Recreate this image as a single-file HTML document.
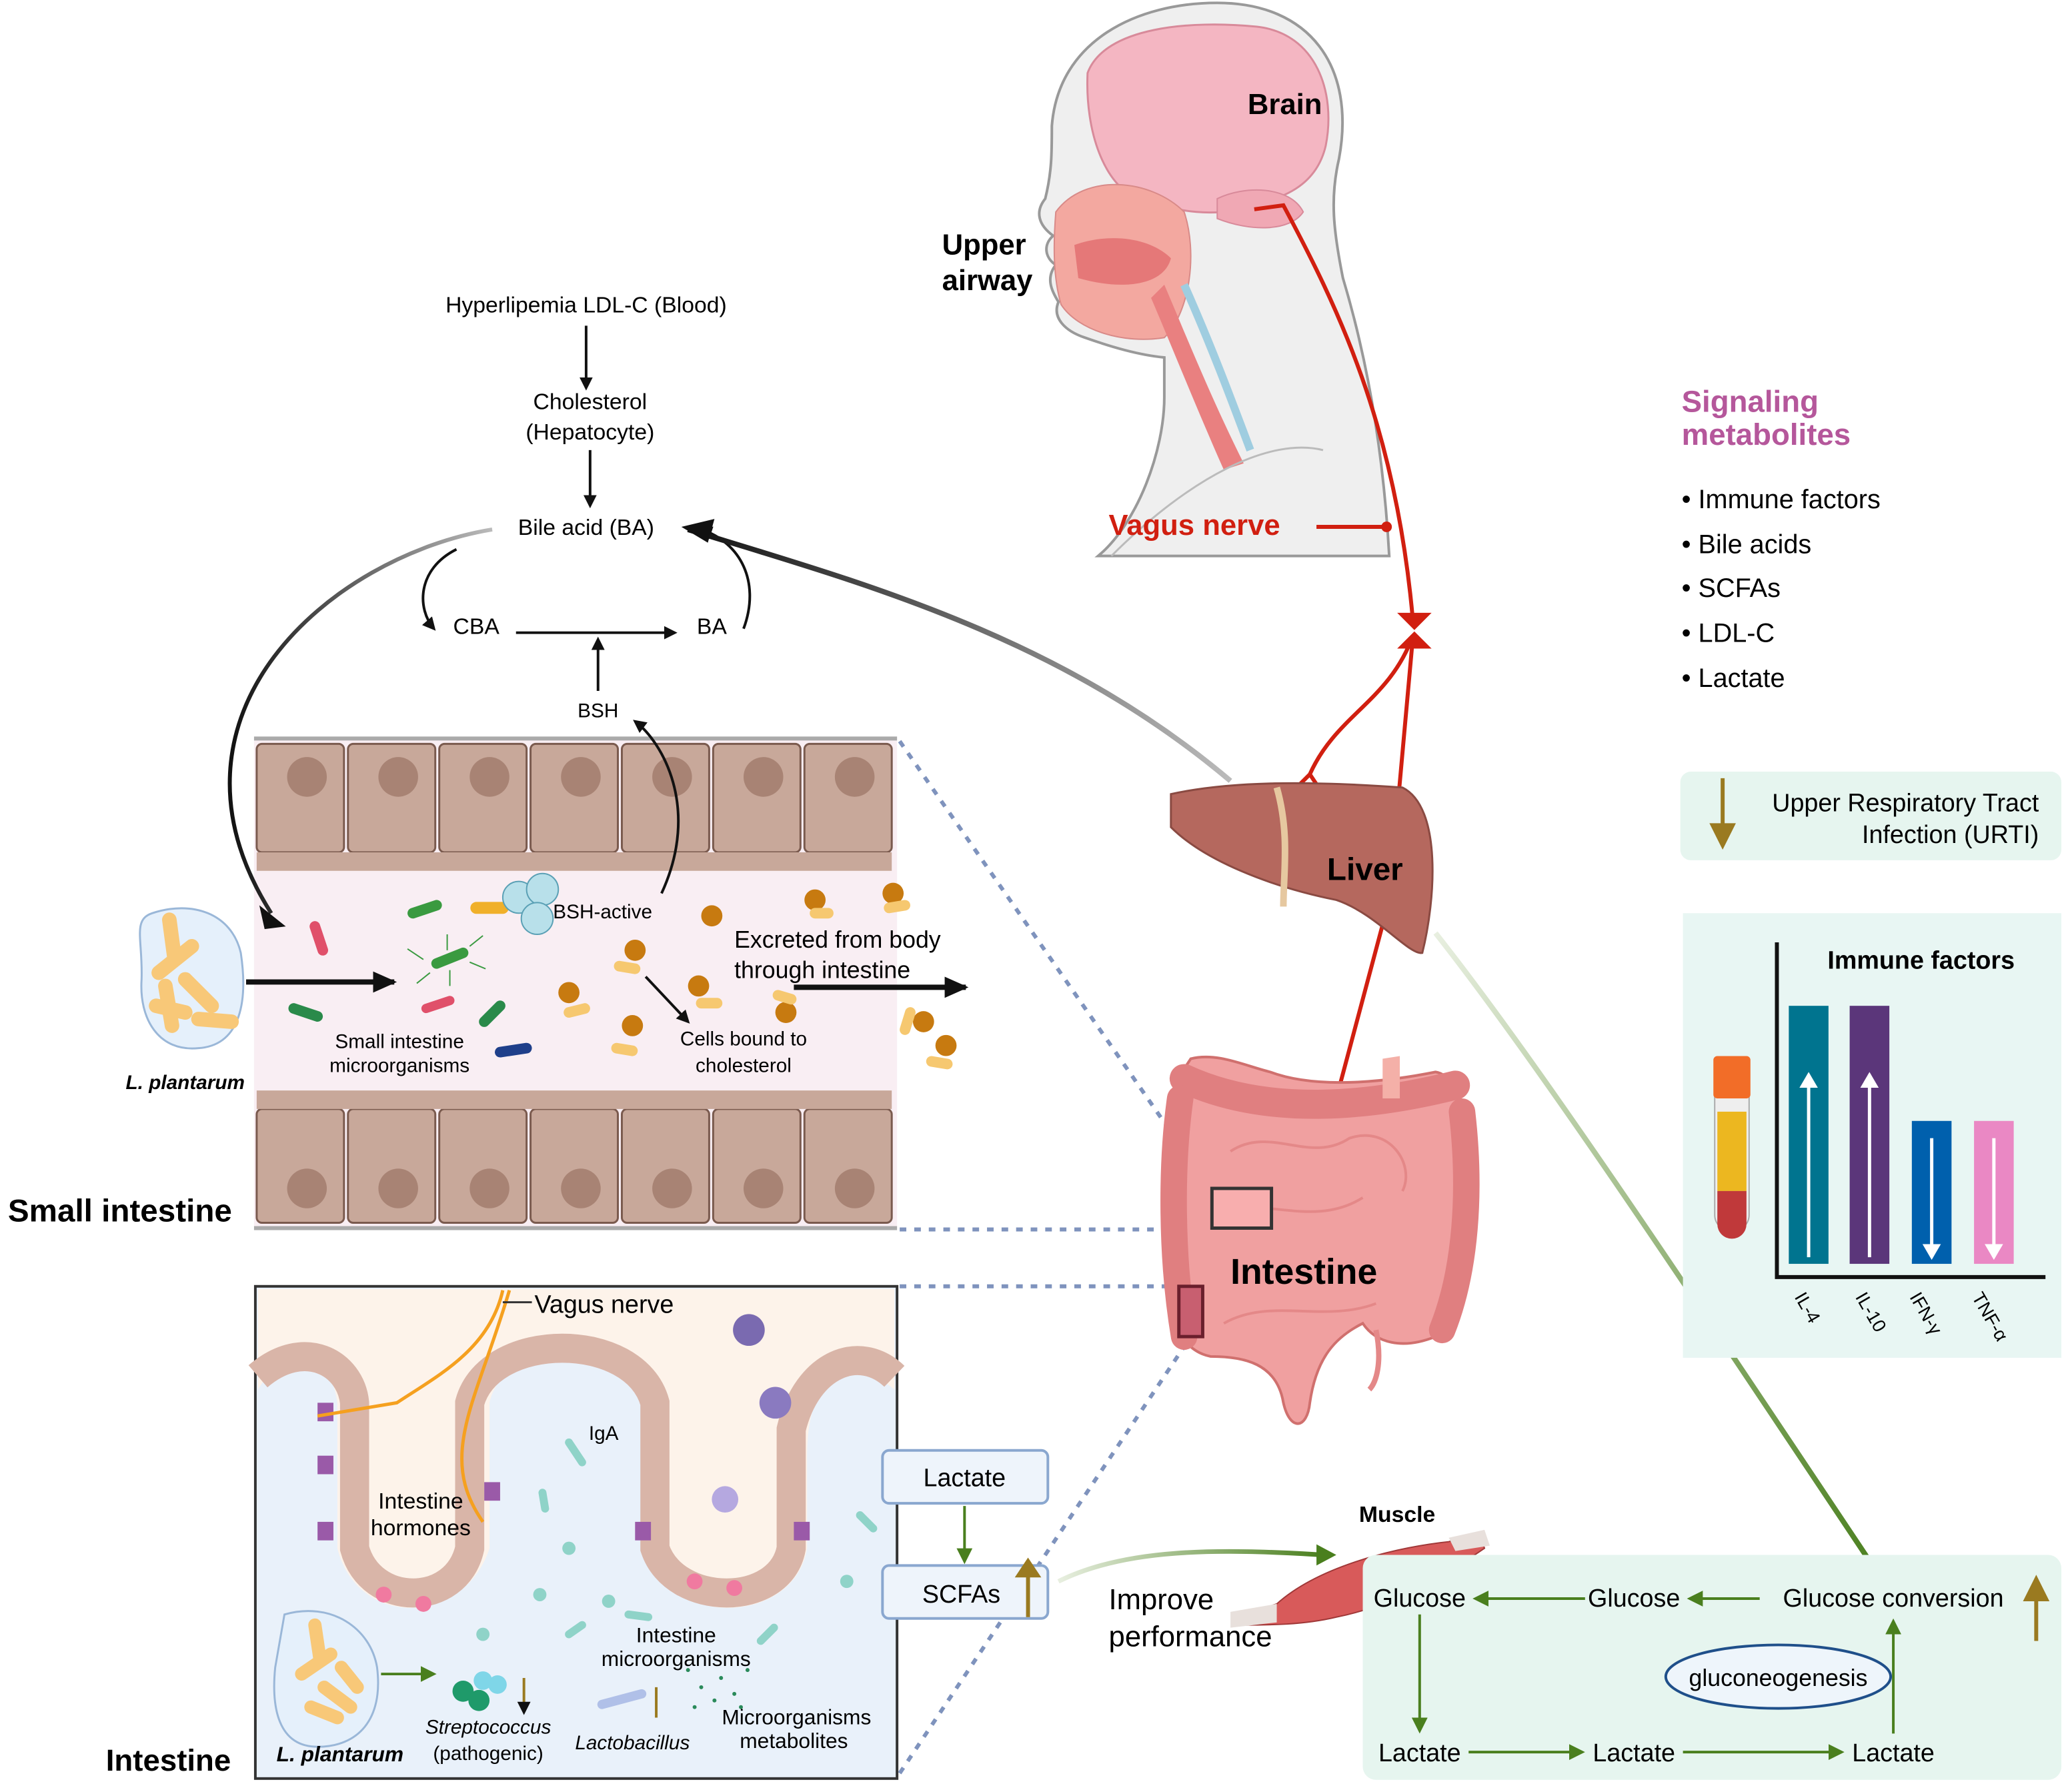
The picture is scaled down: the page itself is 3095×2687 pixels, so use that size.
<!DOCTYPE html>
<html><head><meta charset="utf-8"><style>
html,body{margin:0;padding:0;background:#fff}
svg{display:block}
text{font-family:"Liberation Sans",Arial,sans-serif}
</style></head><body>
<svg width="3095" height="2687" viewBox="0 0 1560 1354" xmlns="http://www.w3.org/2000/svg">
<defs>
<marker id="ak" markerWidth="10" markerHeight="10" refX="8" refY="5" orient="auto" markerUnits="userSpaceOnUse"><path d="M0,0 L10,5 L0,10 Z" fill="#111"/></marker>
<marker id="akb" markerWidth="18" markerHeight="16" refX="16" refY="8" orient="auto" markerUnits="userSpaceOnUse"><path d="M0,0 L18,8 L0,16 Z" fill="#111"/></marker>
<marker id="ag" markerWidth="12" markerHeight="12" refX="10" refY="6" orient="auto" markerUnits="userSpaceOnUse"><path d="M0,0 L12,6 L0,12 Z" fill="#4a7f1e"/></marker>
<marker id="aw" markerWidth="12" markerHeight="14" refX="10" refY="7" orient="auto" markerUnits="userSpaceOnUse"><path d="M0,0 L12,7 L0,14 Z" fill="#fff"/></marker>
<linearGradient id="gl" x1="0" y1="0" x2="1" y2="1"><stop offset="0" stop-color="#e8efe0"/><stop offset="1" stop-color="#4a7f1e"/></linearGradient>
<linearGradient id="gm" x1="0" y1="0" x2="1" y2="0"><stop offset="0" stop-color="#e8efe0"/><stop offset="1" stop-color="#4a7f1e"/></linearGradient>
<linearGradient id="gk" x1="0" y1="0" x2="1" y2="0"><stop offset="0" stop-color="#111"/><stop offset="1" stop-color="#bbb"/></linearGradient>
</defs>

<!-- Head -->
<path d="M795,95 C800,30 860,2 920,2 C990,2 1025,50 1012,120 C1005,150 1008,175 1015,210 C1030,260 1045,330 1050,420 L830,420 C860,395 880,340 880,300 L880,270 C860,268 840,262 820,255 C805,250 795,240 800,228 C795,220 790,210 798,200 C790,195 788,185 796,178 C785,170 782,160 790,150 C795,130 795,115 795,95 Z" fill="#efefef" stroke="#999" stroke-width="2"/>
<path d="M822,55 C835,20 900,15 950,20 C995,25 1010,70 1002,110 C995,140 970,150 945,155 C920,165 890,160 860,150 C835,140 820,100 822,55 Z" fill="#f4b6c2" stroke="#d88a9a" stroke-width="1.5"/>
<path d="M920,150 C940,140 975,140 985,160 C975,175 945,175 920,165 Z" fill="#f0a8b4" stroke="#d88a9a"/>
<path d="M798,160 C820,130 870,135 895,160 C905,190 900,235 880,255 C850,260 815,250 802,230 C796,210 796,185 798,160 Z" fill="#f3a8a0" stroke="#d88a88" stroke-width="1"/>
<path d="M812,185 C840,175 870,180 885,195 C880,215 850,220 815,210 Z" fill="#e57878"/>
<path d="M880,215 C895,250 915,300 940,350 L925,355 C905,310 885,260 870,225 Z" fill="#e98080"/>
<path d="M895,215 C915,260 930,300 945,340" stroke="#9fcde0" stroke-width="6" fill="none"/>
<path d="M840,420 C900,360 960,330 1000,340" stroke="#bbb" stroke-width="1.5" fill="none"/>
<text x="943" y="86" font-size="22" font-weight="bold">Brain</text>
<text x="712" y="192" font-size="22" font-weight="bold">Upper</text>
<text x="712" y="219" font-size="22" font-weight="bold">airway</text>

<!-- vagus nerve red -->
<g stroke="#d11f10" stroke-width="3" fill="none">
<path d="M948,158 L970,155 C1010,230 1055,320 1068,470"/>
<path d="M1068,480 L1050,680 L1010,830"/>
<path d="M1068,480 C1050,530 1010,540 990,585 L975,600 M990,585 L1000,600"/>
<path d="M1010,830 L995,840 M1010,830 L1018,840"/>
<path d="M995,398 L1048,398"/>
</g>
<circle cx="1048" cy="398" r="4" fill="#d11f10"/>
<path d="M1056,463 L1082,463 L1069,476 Z M1056,490 L1082,490 L1069,477 Z" fill="#d11f10"/>
<text x="838" y="404" font-size="22" font-weight="bold" fill="#d11f10">Vagus nerve</text>

<!-- flow chart -->
<text x="443" y="236" font-size="17" text-anchor="middle">Hyperlipemia LDL-C (Blood)</text>
<line x1="443" y1="246" x2="443" y2="293" stroke="#111" stroke-width="2" marker-end="url(#ak)"/>
<text x="446" y="309" font-size="17" text-anchor="middle">Cholesterol</text>
<text x="446" y="332" font-size="17" text-anchor="middle">(Hepatocyte)</text>
<line x1="446" y1="340" x2="446" y2="382" stroke="#111" stroke-width="2" marker-end="url(#ak)"/>
<text x="443" y="404" font-size="17" text-anchor="middle">Bile acid (BA)</text>
<text x="360" y="479" font-size="17" text-anchor="middle">CBA</text>
<text x="538" y="479" font-size="17" text-anchor="middle">BA</text>
<line x1="390" y1="478" x2="510" y2="478" stroke="#111" stroke-width="2" marker-end="url(#ak)"/>
<path d="M345,415 C315,430 315,460 328,475" stroke="#111" stroke-width="2" fill="none" marker-end="url(#ak)"/>
<path d="M562,475 C575,440 560,410 530,400" stroke="#111" stroke-width="2" fill="none" marker-end="url(#ak)"/>
<text x="452" y="542" font-size="15" text-anchor="middle">BSH</text>
<line x1="452" y1="522" x2="452" y2="483" stroke="#111" stroke-width="2" marker-end="url(#ak)"/>
<path d="M930,590 C800,480 650,440 520,400" stroke="url(#gk)" stroke-width="4" fill="none"/>
<path d="M515,398 L540,392 L535,410 Z" fill="#111"/>

<!-- small intestine -->
<rect x="192" y="557" width="486" height="372" fill="#f9eef3"/>
<line x1="192" y1="558" x2="678" y2="558" stroke="#aaa" stroke-width="3"/>
<line x1="192" y1="928" x2="678" y2="928" stroke="#aaa" stroke-width="3"/>
<g fill="#c8a89a" stroke="#7a5a4e" stroke-width="1.5">
<rect x="194" y="562" width="66" height="82" rx="4"/><rect x="263" y="562" width="66" height="82" rx="4"/><rect x="332" y="562" width="66" height="82" rx="4"/><rect x="401" y="562" width="66" height="82" rx="4"/><rect x="470" y="562" width="66" height="82" rx="4"/><rect x="539" y="562" width="66" height="82" rx="4"/><rect x="608" y="562" width="66" height="82" rx="4"/>
<rect x="194" y="838" width="66" height="86" rx="4"/><rect x="263" y="838" width="66" height="86" rx="4"/><rect x="332" y="838" width="66" height="86" rx="4"/><rect x="401" y="838" width="66" height="86" rx="4"/><rect x="470" y="838" width="66" height="86" rx="4"/><rect x="539" y="838" width="66" height="86" rx="4"/><rect x="608" y="838" width="66" height="86" rx="4"/>
</g>
<path d="M194,644 h480 v14 h-480 z" fill="#c8a89a"/>
<path d="M194,838 h480 v-14 h-480 z" fill="#c8a89a"/>
<g fill="#a88374"><circle cx="232" cy="587" r="15"/><circle cx="301" cy="587" r="15"/><circle cx="370" cy="587" r="15"/><circle cx="439" cy="587" r="15"/><circle cx="508" cy="587" r="15"/><circle cx="577" cy="587" r="15"/><circle cx="646" cy="587" r="15"/>
<circle cx="232" cy="898" r="15"/><circle cx="301" cy="898" r="15"/><circle cx="370" cy="898" r="15"/><circle cx="439" cy="898" r="15"/><circle cx="508" cy="898" r="15"/><circle cx="577" cy="898" r="15"/><circle cx="646" cy="898" r="15"/></g>
<!-- bacteria in lumen -->
<g stroke-linecap="round">
<line x1="238" y1="700" x2="244" y2="718" stroke="#e0506a" stroke-width="8"/>
<line x1="312" y1="690" x2="330" y2="684" stroke="#3a9a40" stroke-width="8"/>
<line x1="330" y1="728" x2="350" y2="720" stroke="#3a9a40" stroke-width="8"/>
<line x1="322" y1="762" x2="340" y2="756" stroke="#e0506a" stroke-width="7"/>
<line x1="222" y1="762" x2="240" y2="768" stroke="#2a8a4a" stroke-width="8"/>
<line x1="366" y1="772" x2="378" y2="760" stroke="#2a8a4a" stroke-width="8"/>
<line x1="378" y1="795" x2="398" y2="792" stroke="#1f3f8a" stroke-width="8"/>
<line x1="360" y1="686" x2="380" y2="686" stroke="#f0b02a" stroke-width="9"/>
</g>
<g stroke="#3a9a40" stroke-width="1" fill="none"><path d="M320,725 l-12,-8 M325,735 l-10,8 M355,715 l10,-8 M355,727 l12,5 M338,718 l0,-12 M340,733 l0,12"/></g>
<g fill="#b8e0ea" stroke="#5aa0b5"><circle cx="392" cy="678" r="12"/><circle cx="410" cy="672" r="12"/><circle cx="406" cy="694" r="12"/></g>
<g fill="#c77a10"><circle cx="538" cy="692" r="8"/><circle cx="480" cy="718" r="8"/><circle cx="528" cy="745" r="8"/><circle cx="430" cy="750" r="8"/><circle cx="478" cy="775" r="8"/><circle cx="594" cy="765" r="8"/><circle cx="616" cy="680" r="8"/><circle cx="675" cy="675" r="8"/><circle cx="698" cy="772" r="8"/><circle cx="715" cy="790" r="8"/></g>
<g stroke="#f6c870" stroke-width="8" stroke-linecap="round"><line x1="468" y1="730" x2="480" y2="732"/><line x1="530" y1="758" x2="542" y2="758"/><line x1="430" y1="765" x2="442" y2="762"/><line x1="466" y1="792" x2="478" y2="794"/><line x1="616" y1="690" x2="626" y2="690"/><line x1="672" y1="686" x2="684" y2="684"/><line x1="688" y1="765" x2="684" y2="778"/><line x1="704" y1="802" x2="716" y2="804"/><line x1="588" y1="752" x2="598" y2="755"/></g>
<text x="418" y="694" font-size="15">BSH-active</text>
<text x="555" y="716" font-size="18">Excreted from body</text>
<text x="555" y="739" font-size="18">through intestine</text>
<line x1="600" y1="746" x2="730" y2="746" stroke="#111" stroke-width="4" marker-end="url(#akb)"/>
<line x1="488" y1="738" x2="520" y2="772" stroke="#111" stroke-width="2" marker-end="url(#ak)"/>
<text x="562" y="790" font-size="15" text-anchor="middle">Cells bound to</text>
<text x="562" y="810" font-size="15" text-anchor="middle">cholesterol</text>
<text x="302" y="792" font-size="15" text-anchor="middle">Small intestine</text>
<text x="302" y="810" font-size="15" text-anchor="middle">microorganisms</text>
<line x1="186" y1="742" x2="298" y2="742" stroke="#111" stroke-width="4" marker-end="url(#akb)"/>
<!-- arrows over panel -->
<path d="M372,400 C250,420 110,540 205,690" stroke="url(#gk)" stroke-width="3" fill="none"/>
<path d="M196,684 L216,700 L200,702 Z" fill="#111"/>
<path d="M500,675 C530,610 500,560 480,545" stroke="#111" stroke-width="2" fill="none" marker-end="url(#ak)"/>
<!-- L plantarum 1 -->
<path d="M115,690 C145,680 175,690 182,720 C188,760 180,790 150,792 C120,795 105,770 107,740 C108,710 100,695 115,690 Z" fill="#e5f0fb" stroke="#9ab7d8" stroke-width="1.5"/>
<g stroke="#f8c878" stroke-width="11" stroke-linecap="round"><line x1="128" y1="695" x2="132" y2="725"/><line x1="120" y1="735" x2="145" y2="715"/><line x1="125" y1="745" x2="130" y2="775"/><line x1="140" y1="740" x2="160" y2="760"/><line x1="150" y1="770" x2="175" y2="772"/><line x1="118" y1="760" x2="140" y2="765"/></g>
<text x="140" y="823" font-size="15" font-weight="bold" font-style="italic" text-anchor="middle">L. plantarum</text>
<text x="6" y="923" font-size="24" font-weight="bold">Small intestine</text>

<!-- dashed connectors -->
<g stroke="#7f93bd" stroke-width="3" stroke-dasharray="5,6" fill="none">
<line x1="680" y1="560" x2="916" y2="900"/>
<line x1="680" y1="929" x2="916" y2="929"/>
<line x1="680" y1="972" x2="890" y2="972"/>
<line x1="680" y1="1340" x2="900" y2="1010"/>
</g>

<!-- liver -->
<path d="M885,600 C930,590 990,590 1060,595 C1090,610 1085,680 1075,720 C1065,722 1040,690 1010,680 C960,670 910,650 885,625 Z" fill="#b5685e" stroke="#8a4a42" stroke-width="1.5"/>
<path d="M965,595 C975,630 970,660 970,685" stroke="#e6c8a0" stroke-width="5" fill="none"/>
<text x="1003" y="665" font-size="24" font-weight="bold">Liver</text>
<path d="M1085,705 C1160,800 1260,950 1420,1190" stroke="url(#gl)" stroke-width="4" fill="none"/>
<path d="M1410,1180 L1430,1200 L1412,1198 Z" fill="#4a7f1e"/>

<!-- intestine organ -->
<path d="M900,800 C920,795 940,805 960,810 C1000,825 1060,815 1085,810 C1100,812 1110,840 1108,880 C1112,950 1105,990 1085,1010 C1060,1020 1040,1015 1030,1000 C1010,1010 995,1025 990,1060 C988,1080 975,1082 970,1060 C965,1030 940,1025 915,1025 C890,1020 880,990 882,950 C878,900 880,840 890,815 Z" fill="#f0a0a0" stroke="#d0706e" stroke-width="2"/>
<path d="M895,815 C960,845 1040,835 1100,820" stroke="#e07f80" stroke-width="22" fill="none" stroke-linecap="round"/>
<path d="M892,830 C885,880 885,950 895,1010 M1105,840 C1112,900 1108,960 1090,1005" stroke="#e07f80" stroke-width="20" fill="none" stroke-linecap="round"/>
<g fill="none" stroke="#e48888" stroke-width="2"><path d="M930,870 C960,850 990,880 1020,860 C1050,850 1070,880 1060,900"/><path d="M920,920 C950,900 990,930 1030,905"/><path d="M925,1000 C960,980 1000,1000 1040,985"/></g>
<path d="M1045,800 L1058,798 L1058,830 L1045,830 Z" fill="#f4b0a8"/>
<path d="M1040,1005 C1045,1030 1040,1045 1035,1050" stroke="#e48888" stroke-width="4" fill="none"/>
<rect x="916" y="898" width="45" height="30" fill="#f8aeae" stroke="#333" stroke-width="2.5"/>
<rect x="891" y="972" width="18" height="38" fill="#c85f70" stroke="#6a1f2c" stroke-width="2.5"/>
<text x="930" y="970" font-size="27" font-weight="bold">Intestine</text>

<!-- intestine panel -->
<rect x="193" y="972" width="485" height="372" fill="#e9f1fa" stroke="#333" stroke-width="2"/>
<path d="M195,974 H676 V1050 C640,1020 610,1040 610,1100 V1170 C600,1230 500,1230 490,1170 V1060 C480,1010 380,1010 370,1060 V1170 C350,1230 270,1230 255,1170 V1060 C250,1020 215,1015 195,1050 Z" fill="#fdf3ea"/>
<path d="M195,1040 C230,1010 265,1030 268,1060 V1170 C280,1215 345,1215 355,1170 V1060 C370,1005 480,1005 495,1060 V1170 C510,1215 590,1215 598,1170 V1080 C610,1030 650,1015 676,1040" stroke="#d9b5a8" stroke-width="22" fill="none"/>
<g fill="#9a5aa8"><rect x="240" y="1060" width="12" height="14"/><rect x="240" y="1100" width="12" height="14"/><rect x="240" y="1150" width="12" height="14"/><rect x="366" y="1120" width="12" height="14"/><rect x="480" y="1150" width="12" height="14"/><rect x="600" y="1150" width="12" height="14"/></g>
<g fill="#f07aa0"><circle cx="290" cy="1205" r="6"/><circle cx="320" cy="1212" r="6"/><circle cx="525" cy="1195" r="6"/><circle cx="555" cy="1200" r="6"/></g>
<path d="M380,975 C370,1020 330,1040 300,1060 L240,1070 M385,975 C360,1060 330,1100 365,1150" stroke="#f5a01f" stroke-width="2.5" fill="none"/>
<text x="404" y="992" font-size="19">Vagus nerve</text>
<line x1="380" y1="984" x2="402" y2="984" stroke="#333" stroke-width="1.5"/>
<text x="445" y="1088" font-size="15">IgA</text>
<text x="318" y="1140" font-size="17" text-anchor="middle">Intestine</text>
<text x="318" y="1160" font-size="17" text-anchor="middle">hormones</text>
<circle cx="566" cy="1005" r="12" fill="#7a6ab0"/>
<circle cx="586" cy="1060" r="12" fill="#8a7ac0"/>
<circle cx="548" cy="1133" r="10" fill="#b5a8e0"/>
<g fill="#8fd3c8"><circle cx="430" cy="1170" r="5"/><circle cx="460" cy="1210" r="5"/><circle cx="408" cy="1205" r="5"/><circle cx="365" cy="1235" r="5"/><circle cx="640" cy="1195" r="5"/></g>
<g stroke="#8fd3c8" stroke-width="6" stroke-linecap="round"><line x1="430" y1="1090" x2="440" y2="1105"/><line x1="410" y1="1128" x2="412" y2="1140"/><line x1="650" y1="1145" x2="660" y2="1155"/><line x1="585" y1="1230" x2="575" y2="1240"/><line x1="430" y1="1235" x2="440" y2="1228"/><line x1="475" y1="1220" x2="490" y2="1222"/></g>
<path d="M215,1220 C250,1210 280,1230 285,1260 C290,1300 270,1320 240,1320 C210,1320 205,1290 208,1260 Z" fill="#e5f0fb" stroke="#9ab7d8" stroke-width="1.5"/>
<g stroke="#f8c878" stroke-width="10" stroke-linecap="round"><line x1="238" y1="1228" x2="242" y2="1255"/><line x1="228" y1="1265" x2="250" y2="1250"/><line x1="245" y1="1275" x2="265" y2="1290"/><line x1="258" y1="1260" x2="270" y2="1275"/><line x1="235" y1="1290" x2="255" y2="1298"/></g>
<line x1="288" y1="1265" x2="328" y2="1265" stroke="#4a7f1e" stroke-width="2" marker-end="url(#ag)"/>
<g fill="#1f9a6a"><circle cx="350" cy="1278" r="8"/><circle cx="362" cy="1285" r="8"/></g>
<g fill="#7fd6e8"><circle cx="365" cy="1270" r="7"/><circle cx="376" cy="1273" r="7"/></g>
<line x1="396" y1="1268" x2="396" y2="1294" stroke="#9a7a20" stroke-width="2" marker-end="url(#ak)"/>
<line x1="496" y1="1298" x2="496" y2="1275" stroke="#9a7a20" stroke-width="2"/>
<line x1="455" y1="1288" x2="485" y2="1280" stroke="#b0c0e8" stroke-width="7" stroke-linecap="round"/>
<g fill="#2a8a5a"><circle cx="520" cy="1262" r="1.5"/><circle cx="530" cy="1275" r="1.5"/><circle cx="545" cy="1268" r="1.5"/><circle cx="555" cy="1280" r="1.5"/><circle cx="565" cy="1262" r="1.5"/><circle cx="540" cy="1285" r="1.5"/><circle cx="525" cy="1290" r="1.5"/><circle cx="560" cy="1290" r="1.5"/></g>
<text x="511" y="1241" font-size="16" text-anchor="middle">Intestine</text>
<text x="511" y="1259" font-size="16" text-anchor="middle">microorganisms</text>
<text x="369" y="1310" font-size="15" font-style="italic" text-anchor="middle">Streptococcus</text>
<text x="369" y="1330" font-size="15" text-anchor="middle">(pathogenic)</text>
<text x="478" y="1322" font-size="15" font-style="italic" text-anchor="middle">Lactobacillus</text>
<text x="602" y="1303" font-size="16" text-anchor="middle">Microorganisms</text>
<text x="600" y="1321" font-size="16" text-anchor="middle">metabolites</text>
<text x="257" y="1331" font-size="16" font-weight="bold" font-style="italic" text-anchor="middle">L. plantarum</text>
<text x="80" y="1338" font-size="23" font-weight="bold">Intestine</text>

<!-- Lactate SCFAs -->
<rect x="667" y="1096" width="125" height="40" rx="5" fill="#eef4fb" stroke="#8aa7cf" stroke-width="2"/>
<text x="729" y="1123" font-size="19" text-anchor="middle">Lactate</text>
<line x1="729" y1="1138" x2="729" y2="1180" stroke="#4a7f1e" stroke-width="2" marker-end="url(#ag)"/>
<rect x="667" y="1183" width="125" height="40" rx="5" fill="#eef4fb" stroke="#8aa7cf" stroke-width="2"/>
<text x="697" y="1211" font-size="19">SCFAs</text>
<line x1="777" y1="1222" x2="777" y2="1185" stroke="#9a7a20" stroke-width="3"/>
<path d="M767,1192 L777,1177 L787,1192 Z" fill="#9a7a20"/>
<path d="M800,1195 C850,1170 920,1170 1000,1175" stroke="url(#gm)" stroke-width="3.5" fill="none"/>
<path d="M995,1167 L1010,1175 L995,1183 Z" fill="#4a7f1e"/>
<text x="838" y="1216" font-size="22">Improve</text>
<text x="838" y="1244" font-size="22">performance</text>

<!-- muscle -->
<path d="M935,1222 L965,1212 C995,1185 1050,1170 1095,1165 L1118,1158 L1122,1170 C1100,1185 1060,1212 1010,1222 C985,1228 960,1228 935,1228 Z" fill="#d85a5a" stroke="#a03838"/>
<path d="M930,1218 L965,1212 L965,1226 L930,1230 Z M1095,1162 L1122,1156 L1126,1168 L1100,1172 Z" fill="#e8e0dc"/>
<text x="1056" y="1150" font-size="17" font-weight="bold" text-anchor="middle">Muscle</text>

<!-- bottom right box -->
<rect x="1030" y="1175" width="528" height="170" rx="10" fill="#e6f5ef"/>
<text x="1073" y="1214" font-size="19" text-anchor="middle">Glucose</text>
<text x="1235" y="1214" font-size="19" text-anchor="middle">Glucose</text>
<text x="1431" y="1214" font-size="19" text-anchor="middle">Glucose conversion</text>
<line x1="1198" y1="1208" x2="1115" y2="1208" stroke="#4a7f1e" stroke-width="2" marker-end="url(#ag)"/>
<line x1="1330" y1="1208" x2="1277" y2="1208" stroke="#4a7f1e" stroke-width="2" marker-end="url(#ag)"/>
<line x1="1539" y1="1240" x2="1539" y2="1205" stroke="#9a7a20" stroke-width="3"/>
<path d="M1529,1210 L1539,1190 L1549,1210 Z" fill="#9a7a20"/>
<text x="1073" y="1331" font-size="19" text-anchor="middle">Lactate</text>
<text x="1235" y="1331" font-size="19" text-anchor="middle">Lactate</text>
<text x="1431" y="1331" font-size="19" text-anchor="middle">Lactate</text>
<line x1="1073" y1="1220" x2="1073" y2="1308" stroke="#4a7f1e" stroke-width="2" marker-end="url(#ag)"/>
<line x1="1110" y1="1324" x2="1196" y2="1324" stroke="#4a7f1e" stroke-width="2" marker-end="url(#ag)"/>
<line x1="1272" y1="1324" x2="1392" y2="1324" stroke="#4a7f1e" stroke-width="2" marker-end="url(#ag)"/>
<line x1="1431" y1="1310" x2="1431" y2="1225" stroke="#4a7f1e" stroke-width="2" marker-end="url(#ag)"/>
<ellipse cx="1344" cy="1267" rx="85" ry="24" fill="#eef5fb" stroke="#1f4f8a" stroke-width="2"/>
<text x="1344" y="1274" font-size="18" text-anchor="middle">gluconeogenesis</text>

<!-- signaling -->
<text x="1271" y="311" font-size="23" font-weight="bold" fill="#b5579b">Signaling</text>
<text x="1271" y="336" font-size="23" font-weight="bold" fill="#b5579b">metabolites</text>
<text x="1271" y="384" font-size="20">• Immune factors</text>
<text x="1271" y="418" font-size="20">• Bile acids</text>
<text x="1271" y="451" font-size="20">• SCFAs</text>
<text x="1271" y="485" font-size="20">• LDL-C</text>
<text x="1271" y="519" font-size="20">• Lactate</text>

<rect x="1270" y="583" width="288" height="67" rx="8" fill="#e6f5ef"/>
<line x1="1302" y1="588" x2="1302" y2="625" stroke="#9a7a20" stroke-width="3"/>
<path d="M1292,622 L1302,642 L1312,622 Z" fill="#9a7a20"/>
<text x="1541" y="613" font-size="19" text-anchor="end">Upper Respiratory Tract</text>
<text x="1541" y="637" font-size="19" text-anchor="end">Infection (URTI)</text>

<rect x="1272" y="690" width="286" height="336" fill="#e8f6f3"/>
<text x="1452" y="732" font-size="19" font-weight="bold" text-anchor="middle">Immune factors</text>
<polyline points="1343,712 1343,965 1546,965" fill="none" stroke="#111" stroke-width="3"/>
<rect x="1352" y="760" width="30" height="195" fill="#00748f"/>
<rect x="1398" y="760" width="30" height="195" fill="#5b367a"/>
<rect x="1445" y="847" width="30" height="108" fill="#0060ad"/>
<rect x="1492" y="847" width="30" height="108" fill="#ea88c4"/>
<line x1="1367" y1="950" x2="1367" y2="812" stroke="#fff" stroke-width="2.5" marker-end="url(#aw)"/>
<line x1="1413" y1="950" x2="1413" y2="812" stroke="#fff" stroke-width="2.5" marker-end="url(#aw)"/>
<line x1="1460" y1="860" x2="1460" y2="950" stroke="#fff" stroke-width="2.5" marker-end="url(#aw)"/>
<line x1="1507" y1="860" x2="1507" y2="950" stroke="#fff" stroke-width="2.5" marker-end="url(#aw)"/>
<g font-size="14"><text transform="translate(1356,980) rotate(60)">IL-4</text><text transform="translate(1402,980) rotate(60)">IL-10</text><text transform="translate(1443,980) rotate(60)">IFN-γ</text><text transform="translate(1490,980) rotate(60)">TNF-α</text></g>
<rect x="1296" y="800" width="26" height="130" rx="12" fill="#eee" stroke="#aaa"/>
<rect x="1298" y="840" width="22" height="60" fill="#ecb720"/>
<path d="M1298,900 h22 v25 a11,11 0 0 1 -22,0 z" fill="#c0393a"/>
<rect x="1295" y="798" width="28" height="32" rx="3" fill="#f26d28"/>
</svg>
</body></html>
